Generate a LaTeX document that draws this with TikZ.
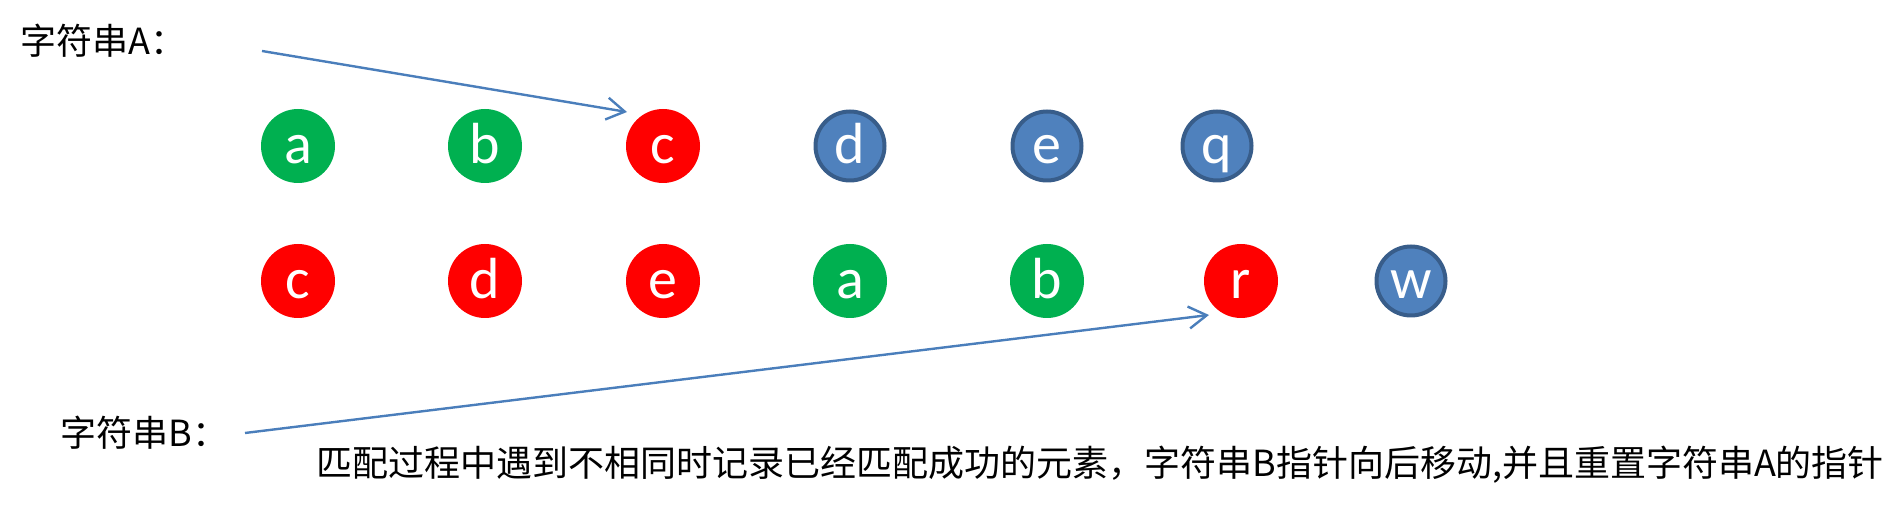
\documentclass[tikz,border=0pt]{standalone}
\usepackage{fontspec}
\setmainfont{Carlito}
\newfontfamily\cjk{Noto Sans CJK SC}
\usetikzlibrary{arrows.meta}
\definecolor{pgreen}{HTML}{00B050}
\definecolor{pred}{HTML}{FF0000}
\definecolor{pblue}{HTML}{4F81BD}
\definecolor{pblueline}{HTML}{385D8A}
\definecolor{parrow}{HTML}{4A7EBB}
\begin{document}
\begin{tikzpicture}[x=0.5pt,y=-0.5pt,
  ball/.style={circle,inner sep=0pt,minimum size=37pt,text=white,
    font=\fontsize{29pt}{29pt}\selectfont,text height=18pt,text depth=0pt},
  gball/.style={ball,fill=pgreen},
  rball/.style={ball,fill=pred},
  bball/.style={ball,fill=pblue,draw=pblueline,line width=2pt,minimum size=34.5pt},
  label/.style={inner sep=0pt,anchor=west,font=\cjk\fontsize{18pt}{18pt}\selectfont},
  pointer/.style={draw=parrow,line width=1.2pt,-{Straight Barb[length=9pt,width=11pt,line width=1.2pt]}}
]
\path[use as bounding box] (0,0) rectangle (1892,506);

% row A
\node[gball] (a1) at (298,146) {a};
\node[gball] (a2) at (485,146) {b};
\node[rball] (a3) at (663,146) {c};
\node[bball] (a4) at (850,146) {d};
\node[bball] (a5) at (1047,146) {e};
\node[bball] (a6) at (1217,146) {q};

% row B
\node[rball] (b1) at (298,281) {c};
\node[rball] (b2) at (485,281) {d};
\node[rball] (b3) at (663,281) {e};
\node[gball] (b4) at (850,281) {a};
\node[gball] (b5) at (1047,281) {b};
\node[rball] (b6) at (1241,281) {r};
\node[bball] (b7) at (1411,281) {w};

% labels
\node[label] (la) at (20,41) {字符串A：};
\node[label] (lb) at (60,433) {字符串B：};
\node[label] (note) at (316,465) {匹配过程中遇到不相同时记录已经匹配成功的元素，字符串B指针向后移动,并且重置字符串A的指针};

% pointers
\coordinate (startA) at (262,51);
\coordinate (tipA) at ([shift={(-36,-34)}]a3.center);
\coordinate (startB) at (245,433);
\coordinate (tipB) at ([shift={(-32,34)}]b6.center);
\draw[pointer] (startA) -- (tipA);
\draw[pointer] (startB) -- (tipB);
\end{tikzpicture}
\end{document}
